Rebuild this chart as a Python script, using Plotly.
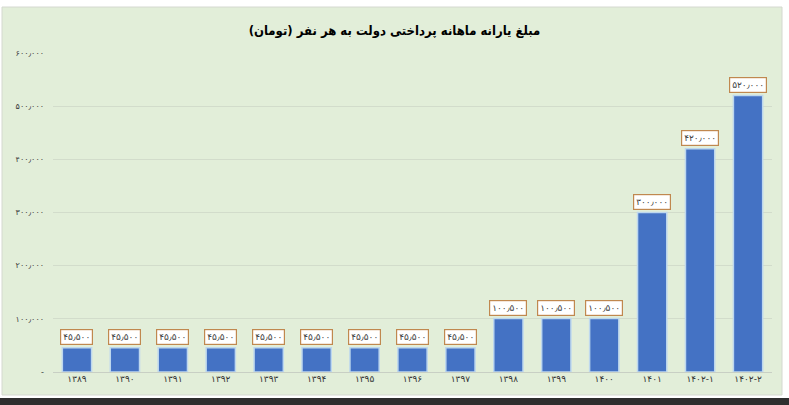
import plotly.graph_objects as go

# داده‌ها
years = ["۱۳۸۹", "۱۳۹۰", "۱۳۹۱", "۱۳۹۲", "۱۳۹۳", "۱۳۹۴", "۱۳۹۵", "۱۳۹۶",
         "۱۳۹۷", "۱۳۹۸", "۱۳۹۹", "۱۴۰۰", "۱۴۰۱", "۱۴۰۲-۱", "۱۴۰۲-۲"]
amounts = [45500, 45500, 45500, 45500, 45500, 45500, 45500, 45500,
           45500, 100500, 100500, 100500, 300000, 420000, 520000]
y_ticks = [0, 100000, 200000, 300000, 400000, 500000, 600000]
y_tick_text = ["-", "۱۰۰٫۰۰۰", "۲۰۰٫۰۰۰", "۳۰۰٫۰۰۰", "۴۰۰٫۰۰۰", "۵۰۰٫۰۰۰", "۶۰۰٫۰۰۰"]

fa_digits = str.maketrans("0123456789", "۰۱۲۳۴۵۶۷۸۹")


def to_fa(n):
    return f"{n:,}".replace(",", "٫").translate(fa_digits)


W, H = 789, 405
L, R, T, B = 53, 17, 53, 33
pw, ph = W - L - R, H - T - B


def px(x):
    return (x - L) / pw


def py(y):
    return (H - B - y) / ph


fig = go.Figure()
fig.add_trace(go.Bar(
    x=years, y=amounts,
    marker=dict(color="#4472c4", line=dict(color="#bdd7ee", width=1.5)),
))

for yr, v in zip(years, amounts):
    fig.add_annotation(
        x=yr, y=v, text=to_fa(v), showarrow=False,
        yanchor="bottom", yshift=3,
        font=dict(family="DejaVu Sans", size=9, color="#404040"),
        bgcolor="#ffffff", bordercolor="#c0884f", borderwidth=1.2, borderpad=2,
    )

# پس‌زمینه سبز و نوار پایین
fig.add_shape(type="rect", xref="paper", yref="paper",
              x0=px(2), x1=px(782), y0=py(395), y1=py(7),
              fillcolor="#e2eed9", line=dict(color="#d4d8d0", width=1), layer="below")
fig.add_shape(type="rect", xref="paper", yref="paper",
              x0=px(0), x1=px(W), y0=py(H), y1=py(398),
              fillcolor="#2e2e2e", line=dict(width=0), layer="below")

fig.update_layout(
    width=W, height=H,
    margin=dict(l=L, r=R, t=T, b=B),
    paper_bgcolor="#ffffff", plot_bgcolor="rgba(0,0,0,0)",
    bargap=0.39, showlegend=False,
    title=dict(text="<b>مبلغ یارانه ماهانه پرداختی دولت به هر نفر (تومان)</b>",
               x=0.5, xanchor="center", y=1 - 30 / H, yanchor="middle",
               font=dict(family="DejaVu Sans Condensed", size=13, color="#000000")),
)
fig.update_xaxes(
    type="category", showgrid=False, ticks="", showline=False,
    tickfont=dict(family="DejaVu Sans", size=9, color="#333333"),
)
fig.update_yaxes(
    range=[0, 600000], tickvals=y_ticks, ticktext=y_tick_text,
    showgrid=True, gridcolor="#d2dccb", gridwidth=1,
    zeroline=True, zerolinecolor="#c8cfc4", zerolinewidth=1,
    ticklabelstandoff=8,
    tickfont=dict(family="DejaVu Sans", size=8, color="#404040"),
)

fig.write_html("out.html", config={"displayModeBar": False},
               post_script="document.body.style.margin='0';")
